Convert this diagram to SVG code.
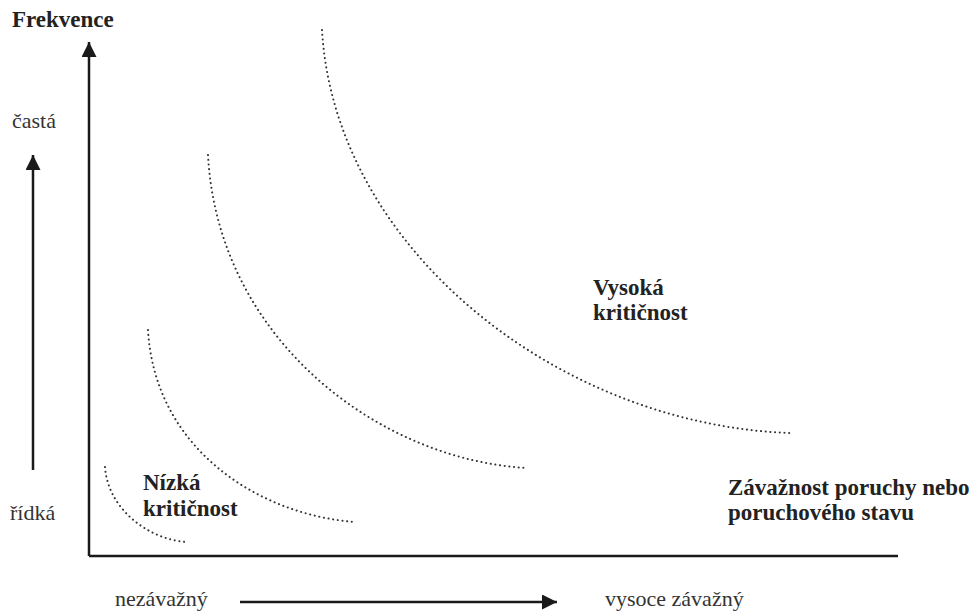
<svg xmlns="http://www.w3.org/2000/svg" width="973" height="614" viewBox="0 0 973 614">
<style>
.t{font-family:"Liberation Serif","Times New Roman",serif;font-size:22px;fill:#333}
.b{font-weight:bold;fill:#222;font-size:23px}
.ax{stroke:#1a1a1a;stroke-width:2.5;fill:none}
.dot{stroke:#333;stroke-width:2;fill:none;stroke-dasharray:0.1 4.6;stroke-linecap:round}
</style>
<defs>
<marker id="ah" viewBox="0 0 10 10" refX="10" refY="5" markerWidth="6" markerHeight="6" markerUnits="strokeWidth" orient="auto">
<path d="M0,0 L10,5 L0,10 Z" fill="#1a1a1a"/>
</marker>
</defs>
<g id="connectors">
<path class="ax" d="M89,556 L89,42" marker-end="url(#ah)"/>
<path class="ax" d="M89,556 L898,556"/>
<path class="ax" d="M33,470 L33,155" marker-end="url(#ah)"/>
<path class="ax" d="M240,602 L557,602" marker-end="url(#ah)"/>
</g>
<g id="curves">
<path class="dot" d="M105,467 C108,510 150,540 187,542"/>
<path class="dot" d="M148,330 C155,450 260,515 355,522"/>
<path class="dot" d="M208,155 C218,340 380,460 527,468"/>
<path class="dot" d="M322,30 C335,250 560,425 790,433"/>
</g>
<g id="labels">
<text class="t b" x="12" y="27">Frekvence</text>
<text class="t" x="12" y="128">častá</text>
<text class="t" x="10" y="520">řídká</text>
<text class="t" x="115" y="606">nezávažný</text>
<text class="t" x="605" y="606">vysoce závažný</text>
<text class="t b" x="728" y="495">Závažnost poruchy nebo</text>
<text class="t b" x="728" y="520">poruchového stavu</text>
<text class="t b" x="593" y="295">Vysoká</text>
<text class="t b" x="593" y="320">kritičnost</text>
<text class="t b" x="143" y="490">Nízká</text>
<text class="t b" x="143" y="516">kritičnost</text>
</g>
</svg>
